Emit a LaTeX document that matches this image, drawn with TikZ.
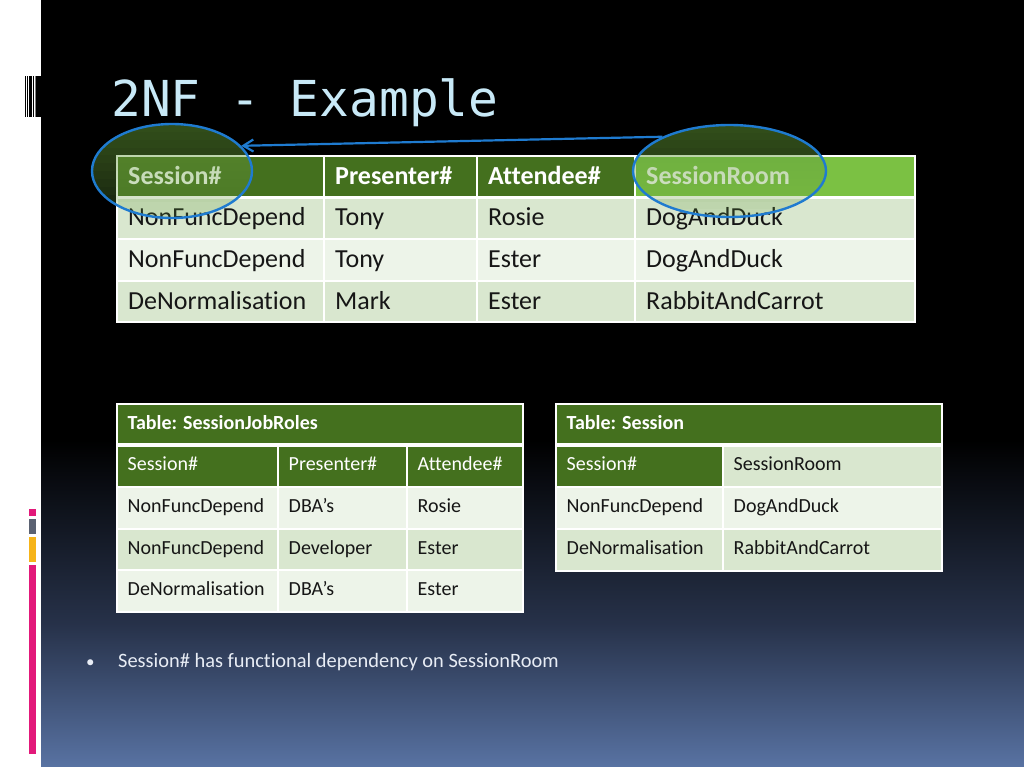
\documentclass[tikz,border=0pt]{standalone}
\usepackage{fontspec}
\setmainfont{Carlito}[Ligatures=NoCommon]
\newfontfamily\titlefont{DejaVu Sans Mono}
\usetikzlibrary{arrows.meta,shapes.geometric}
\definecolor{hdr}{HTML}{44701E}
\definecolor{hdrbright}{HTML}{7BC143}
\definecolor{rowA}{HTML}{D9E7CF}
\definecolor{rowB}{HTML}{EDF4E9}
\definecolor{ovl}{HTML}{6AA040}
\definecolor{ringblue}{HTML}{1F7BD0}
\definecolor{titleblue}{HTML}{C8E9F7}
\definecolor{accpink}{HTML}{E2197A}
\definecolor{accgray}{HTML}{5B6272}
\definecolor{accyellow}{HTML}{F6B419}
\definecolor{bgblue}{HTML}{5872A2}
\definecolor{bgmid}{HTML}{27324A}
\definecolor{darktext}{HTML}{161616}
\definecolor{bullettext}{HTML}{E8EDF5}
% big table cell: name, x1, y1, x2, y2, fill, text style, text
\newcommand\bigcell[8]{%
  \path[fill=#6, draw=white, line width=1.5pt] (#2,#3) rectangle (#4,#5);
  \node[#7, anchor=base west] (#1) at ({#2+11},{(#3+#5)/2+7.5}) {#8};}
\newcommand\smallcell[8]{%
  \path[fill=#6, draw=white, line width=1.5pt] (#2,#3) rectangle (#4,#5);
  \node[#7, anchor=base west] (#1) at ({#2+10.5},{(#3+#5)/2+4.5}) {#8};}
% translucent overlay in an ellipse, stronger at the top: cx, cy, rx, ry
\newcommand\ellglow[4]{%
  \begin{scope}
    \clip (#1,#2) ellipse [x radius=#3, y radius=#4];
    \fill[ovl, fill opacity=0.2] ({#1-#3-2},{#2-#4-2}) rectangle ({#1+#3+2},{#2+#4+2});
    \foreach \k in {1,...,11}
      \fill[ovl, fill opacity=0.045] ({#1-#3-2},{#2-#4-2}) rectangle ({#1+#3+2},{#2-#4+2*#4*(1-\k/12)});
  \end{scope}}
\begin{document}
\begin{tikzpicture}[x=1pt,y=-1pt,
  bighead/.style={inner sep=0pt, text=white, font=\bfseries\fontsize{26}{30}\selectfont},
  bigbody/.style={inner sep=0pt, text=darktext, font=\fontsize{26}{30}\selectfont},
  smtitle/.style={inner sep=0pt, text=white, font=\bfseries\fontsize{20}{24}\selectfont},
  smhead/.style={inner sep=0pt, text=white, font=\fontsize{20}{24}\selectfont},
  smbody/.style={inner sep=0pt, text=darktext, font=\fontsize{20}{24}\selectfont},
  ring/.style={ellipse, draw=ringblue, line width=2.4pt, inner sep=0pt},
  linkarrow/.style={draw=ringblue, line width=2.2pt, -{Straight Barb[length=10pt,width=12pt]}}
]
\useasboundingbox (0,0) rectangle (1024,768);
% background
\fill[white] (0,0) rectangle (1024,768);
\fill[black] (41,0) rectangle (1024,441);
\shade[top color=black, bottom color=bgmid] (41,440) rectangle (1024,626);
\shade[top color=bgmid, bottom color=bgblue] (41,625) rectangle (1024,766);
% barcode
\fill[black] (25,76) rectangle (26,117);
\fill[black] (27,76) rectangle (28,117);
\fill[black] (29,76) rectangle (32,117);
\fill[black] (33,76) rectangle (34,117);
\fill[gray] (35,76) rectangle (36,117);
\fill[black] (36,76) rectangle (41,117);
% accent bars
\fill[accpink] (28.5,509) rectangle (36,516);
\fill[accgray] (28.5,519) rectangle (36,534);
\fill[accyellow] (28.5,537) rectangle (36,562);
\fill[accpink] (28.5,565) rectangle (36,754);
% title
\node[anchor=base west, inner sep=0pt, text=titleblue, font=\titlefont\fontsize{49.5}{55}\selectfont] (title) at (111,116) {2NF - Example};
% top table
\bigcell{h1}{117}{156}{324}{197}{hdr}{bighead}{Session\#}
\bigcell{h2}{324}{156}{477}{197}{hdr}{bighead}{Presenter\#}
\bigcell{h3}{477}{156}{635}{197}{hdr}{bighead}{Attendee\#}
\bigcell{h4}{635}{156}{915}{197}{hdrbright}{bighead}{SessionRoom}
\bigcell{a1}{117}{197}{324}{239}{rowA}{bigbody}{NonFuncDepend}
\bigcell{a2}{324}{197}{477}{239}{rowA}{bigbody}{Tony}
\bigcell{a3}{477}{197}{635}{239}{rowA}{bigbody}{Rosie}
\bigcell{a4}{635}{197}{915}{239}{rowA}{bigbody}{DogAndDuck}
\bigcell{b1}{117}{239}{324}{281}{rowB}{bigbody}{NonFuncDepend}
\bigcell{b2}{324}{239}{477}{281}{rowB}{bigbody}{Tony}
\bigcell{b3}{477}{239}{635}{281}{rowB}{bigbody}{Ester}
\bigcell{b4}{635}{239}{915}{281}{rowB}{bigbody}{DogAndDuck}
\bigcell{c1}{117}{281}{324}{322}{rowA}{bigbody}{DeNormalisation}
\bigcell{c2}{324}{281}{477}{322}{rowA}{bigbody}{Mark}
\bigcell{c3}{477}{281}{635}{322}{rowA}{bigbody}{Ester}
\bigcell{c4}{635}{281}{915}{322}{rowA}{bigbody}{RabbitAndCarrot}
\draw[white, line width=3pt] (117,197) -- (915,197);
% lower left table
\smallcell{lt}{117}{404}{523}{445}{hdr}{smtitle}{Table: SessionJobRoles}
\smallcell{lh1}{117}{445}{278}{487}{hdr}{smhead}{Session\#}
\smallcell{lh2}{278}{445}{407}{487}{hdr}{smhead}{Presenter\#}
\smallcell{lh3}{407}{445}{523}{487}{hdr}{smhead}{Attendee\#}
\smallcell{la1}{117}{487}{278}{529}{rowB}{smbody}{NonFuncDepend}
\smallcell{la2}{278}{487}{407}{529}{rowB}{smbody}{DBA’s}
\smallcell{la3}{407}{487}{523}{529}{rowB}{smbody}{Rosie}
\smallcell{lb1}{117}{529}{278}{570}{rowA}{smbody}{NonFuncDepend}
\smallcell{lb2}{278}{529}{407}{570}{rowA}{smbody}{Developer}
\smallcell{lb3}{407}{529}{523}{570}{rowA}{smbody}{Ester}
\smallcell{lc1}{117}{570}{278}{612}{rowB}{smbody}{DeNormalisation}
\smallcell{lc2}{278}{570}{407}{612}{rowB}{smbody}{DBA’s}
\smallcell{lc3}{407}{570}{523}{612}{rowB}{smbody}{Ester}
\draw[white, line width=3.5pt] (117,445) -- (523,445);
% lower right table
\smallcell{rt}{556}{404}{942}{445}{hdr}{smtitle}{Table: Session}
\smallcell{rh1}{556}{445}{723}{487}{hdr}{smhead}{Session\#}
\smallcell{rh2}{723}{445}{942}{487}{rowA}{smbody}{SessionRoom}
\smallcell{ra1}{556}{487}{723}{529}{rowB}{smbody}{NonFuncDepend}
\smallcell{ra2}{723}{487}{942}{529}{rowB}{smbody}{DogAndDuck}
\smallcell{rb1}{556}{529}{723}{571}{rowA}{smbody}{DeNormalisation}
\smallcell{rb2}{723}{529}{942}{571}{rowA}{smbody}{RabbitAndCarrot}
\draw[white, line width=3.5pt] (556,445) -- (942,445);
% ellipse overlays (translucent green, fading downwards)
\ellglow{172}{171}{80}{47}
\ellglow{729.5}{171}{96.5}{46}
\node[ring, minimum width=160pt, minimum height=94pt] (le) at (172,171) {};
\node[ring, minimum width=193pt, minimum height=92pt] (re) at (729.5,171) {};
\draw[linkarrow] (re.153) -- (le.20);
% bullet
\node[anchor=base west, inner sep=0pt, text=bullettext, font=\fontsize{17}{20}\selectfont] (dot) at (86,667) {•};
\node[anchor=base west, inner sep=0pt, text=bullettext, font=\fontsize{20.4}{24}\selectfont] (note) at (118,667) {Session\# has functional dependency on SessionRoom};
\end{tikzpicture}
\end{document}
